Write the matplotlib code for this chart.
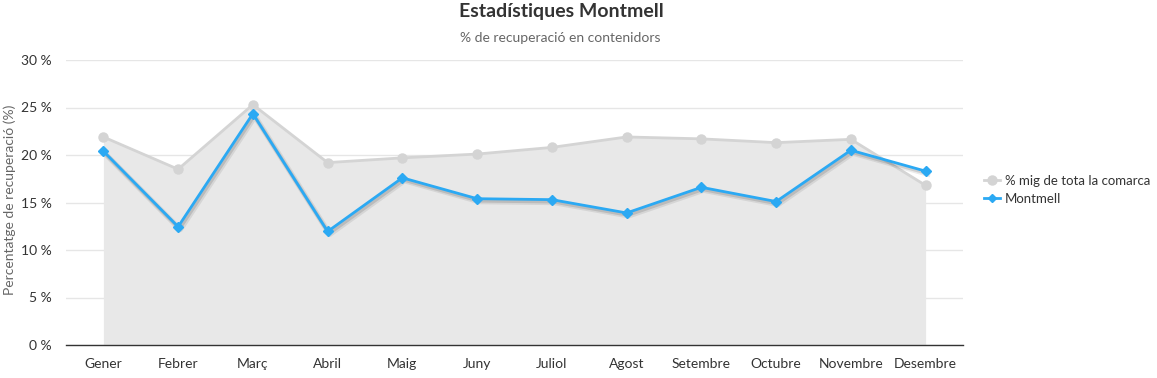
import matplotlib
matplotlib.use("Agg")
import matplotlib.pyplot as plt
import matplotlib.patheffects as pe
from matplotlib.lines import Line2D

months = ["Gener", "Febrer", "Març", "Abril", "Maig", "Juny", "Juliol",
          "Agost", "Setembre", "Octubre", "Novembre", "Desembre"]
avg_comarca = [21.9, 18.5, 25.3, 19.2, 19.7, 20.1, 20.8, 21.9, 21.7, 21.3, 21.65, 16.8]
montmell = [20.4, 12.45, 24.35, 11.95, 17.6, 15.4, 15.3, 13.9, 16.6, 15.1, 20.5, 18.3]
yticks = [0, 5, 10, 15, 20, 25, 30]

plt.rcParams['font.family'] = ['Lato', 'DejaVu Sans']

fig = plt.figure(figsize=(11.57, 3.78), dpi=100)
ax = fig.add_axes([66/1157, 33/378, (963-66)/1157, (345-60)/378])

x = list(range(len(months)))
grey_fill = "#e8e8e8"
grey_line = "#d4d4d4"
blue = "#2ba9f3"

ax.fill_between(x, avg_comarca, 0, color=grey_fill, lw=0, zorder=1)
ax.plot(x, avg_comarca, color=grey_line, lw=2, marker='o', ms=6.5,
        mec=grey_line, mfc=grey_line, zorder=3)
# soft shadow under the blue line
ax.plot(x, montmell, color='#000000', lw=4, alpha=0.08, zorder=3.5, solid_joinstyle='round',
        path_effects=[pe.Stroke(offset=(1.5, -2), linewidth=4)])
ax.plot(x, montmell, color='#000000', lw=2.5, alpha=0.12, zorder=3.5, solid_joinstyle='round',
        path_effects=[pe.Stroke(offset=(1, -1.5), linewidth=2.5)])
ax.plot(x, montmell, color=blue, lw=2, marker='D', ms=5,
        mec=blue, mfc=blue, zorder=4)

ax.set_xlim(-0.5, len(months) - 0.5)
ax.set_ylim(0, 30)
ax.set_yticks(yticks)
ax.set_yticklabels([f"{v} %" for v in yticks])
ax.set_xticks(x)
ax.set_xticklabels(months)
ax.tick_params(axis='both', length=0, labelsize=10, colors='#333333')
ax.tick_params(axis='x', pad=9)
ax.tick_params(axis='y', pad=10)

ax.grid(axis='y', color='#e6e6e6', lw=1)
ax.set_axisbelow(True)
for s in ['top', 'right', 'left']:
    ax.spines[s].set_visible(False)
ax.spines['bottom'].set_color('#333333')
ax.spines['bottom'].set_linewidth(1)
ax.spines['bottom'].set_zorder(5)

fig.text(10/1157, 1 - 200/378, "Percentatge de recuperació (%)", rotation=90,
         ha='center', va='center', fontsize=10, color='#666666')

fig.text(0.485, 1 - 11/378, "Estadístiques Montmell", ha='center', va='center',
         fontsize=14, fontweight='bold', color='#333333')
fig.text(0.484, 1 - 38/378, "% de recuperació en contenidors", ha='center', va='center',
         fontsize=10, color='#666666')

handles = [Line2D([0], [0], color=grey_line, lw=2, marker='o', ms=6.5, mec=grey_line, mfc=grey_line),
           Line2D([0], [0], color=blue, lw=2, marker='D', ms=4.5, mec=blue, mfc=blue)]
fig.legend(handles, ["% mig de tota la comarca", "Montmell"],
           loc='center left', bbox_to_anchor=(984/1157, 1 - 190/378),
           frameon=False, fontsize=9.5, handlelength=1.2, handletextpad=0.4,
           labelspacing=0.45, labelcolor='#333333', borderaxespad=0, borderpad=0)

fig.savefig("out.png", dpi=100)
